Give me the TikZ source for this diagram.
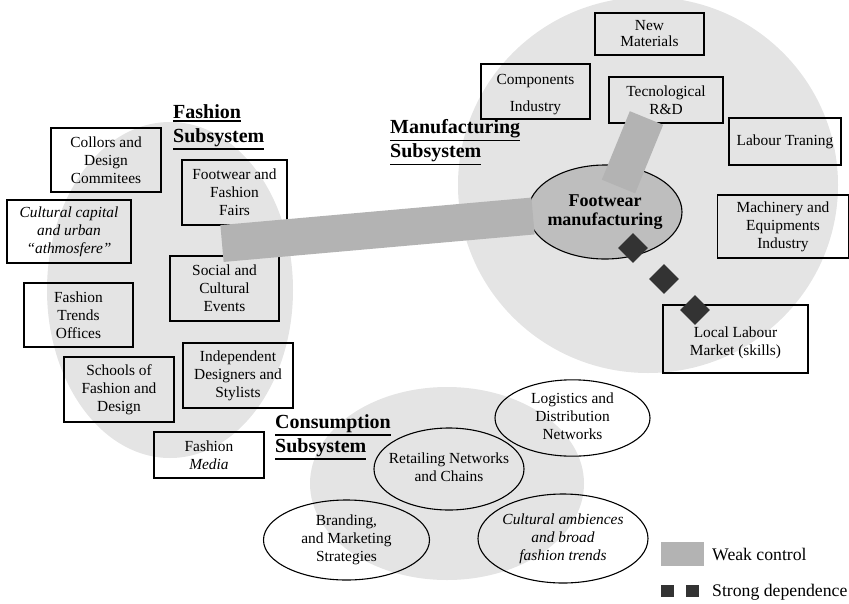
\documentclass[tikz,border=0pt]{standalone}
\usepackage{fontspec}
\setmainfont{Liberation Serif}
\usetikzlibrary{shapes.geometric}

\definecolor{zonegray}{HTML}{E4E4E4}
\definecolor{weakgray}{HTML}{B3B3B3}
\definecolor{coregray}{HTML}{BEBEBE}
\definecolor{strongdark}{HTML}{333333}

% centred multi-line text that takes no width of its own (for ovals)
\newcommand{\ctext}[1]{\makebox[0pt][c]{\begin{tabular}{@{}c@{}}#1\end{tabular}}}
% the same, lowered by #1 below the centre of its box
\newcommand{\lowtext}[2]{\raisebox{\dimexpr -3.9pt-#1\relax}[0pt][0pt]{\ctext{#2}}}
% thick underline for the subsystem titles
\newcommand{\ulined}[1]{\leavevmode\vtop{\hbox{#1}\kern1.6pt\hrule height 1.6pt}}

\begin{document}
\begin{tikzpicture}[x=1pt,y=-1pt,
  txt/.style={font=\fontsize{15.4}{18}\selectfont, align=center, inner sep=0pt},
  box/.style={txt, draw=black, line width=1.1pt, rectangle},
  oval/.style={txt, draw=black, line width=1.1pt, ellipse, inner sep=0pt},
  subtitle/.style={font=\bfseries\fontsize{20}{24}\selectfont, align=left, inner sep=0pt, anchor=west},
  weakbar/.style={draw=weakgray, line width=#1},
  strongmark/.style={diamond, fill=strongdark, minimum width=30pt, minimum height=30pt, inner sep=0pt},
  legendtxt/.style={font=\fontsize{17.7}{20}\selectfont, inner sep=0pt, anchor=base west},
]
\useasboundingbox (0,0) rectangle (849,603);

% subsystem zones
\fill[zonegray] (170,290) ellipse [x radius=123pt, y radius=168pt];
\fill[zonegray] (648,185) ellipse [x radius=190pt, y radius=188pt];
\fill[zonegray] (447,483.5) ellipse [x radius=137pt, y radius=96.5pt];

% fashion subsystem
\node[subtitle] (fashiontitle) at (173,127) {\ulined{Fashion}\\\ulined{Subsystem}};
\node[box, minimum width=110pt, minimum height=64pt] (collors) at (106,160) {Collors and\\Design\\Commitees};
\node[box, minimum width=124pt, minimum height=63pt, font=\itshape\fontsize{15.4}{18}\selectfont] (capital) at (69,231.5) {Cultural capital\\and urban\\“athmosfere”};
\node[box, minimum width=105pt, minimum height=65pt] (fairs) at (234.5,192.5) {Footwear and\\Fashion\\Fairs};
\node[box, minimum width=109pt, minimum height=65pt] (events) at (224.5,288.5) {Social and\\Cultural\\Events};
\node[box, minimum width=109pt, minimum height=64pt] (trends) at (78.5,315) {Fashion\\Trends\\Offices};
\node[box, minimum width=110pt, minimum height=65pt] (schools) at (119,389.5) {Schools of\\Fashion and\\Design};
\node[box, minimum width=110pt, minimum height=65pt] (designers) at (238,375.5) {Independent\\Designers and\\Stylists};
\node[box, minimum width=110pt, minimum height=46pt] (media) at (209,455) {Fashion\\\textit{Media}};

% manufacturing subsystem
\node[subtitle] (mantitle) at (390,142.5) {\ulined{Manufacturing}\\\ulined{Subsystem}};
\node[box, minimum width=109pt, minimum height=42pt, font=\fontsize{15.4}{16}\selectfont] (materials) at (649.5,34) {New\\Materials};
\node[box, minimum width=109pt, minimum height=55pt] (components) at (535.5,91.5) {\lowtext{2.5pt}{Components\\[9pt]Industry}};
\node[box, minimum width=114pt, minimum height=46pt] (rnd) at (666,100) {Tecnological\\R\&D};
\node[box, minimum width=112pt, minimum height=47pt] (training) at (785,141.5) {Labour Traning};
\node[box, minimum width=131pt, minimum height=63pt] (machinery) at (783,226.5) {Machinery and\\Equipments\\Industry};
\node[box, minimum width=145pt, minimum height=68pt] (labour) at (735.5,339) {\lowtext{4pt}{Local Labour\\Market (skills)}};
\node[oval, fill=coregray, minimum width=154pt, minimum height=94pt, font=\bfseries\fontsize{18}{19}\selectfont] (core) at (605,212) {\ctext{Footwear\\manufacturing}};

% consumption subsystem
\node[subtitle] (contitle) at (275,437) {\ulined{Consumption}\\\ulined{Subsystem}};
\node[oval, minimum width=155pt, minimum height=74pt] (logistics) at (572.5,418) {\ctext{Logistics and\\Distribution\\Networks}};
\node[oval, minimum width=150pt, minimum height=82pt] (retail) at (449,469) {\ctext{Retailing Networks\\and Chains}};
\node[oval, minimum width=166pt, minimum height=80pt] (branding) at (346.5,540) {\ctext{Branding,\\and Marketing\\Strategies}};
\node[oval, minimum width=170pt, minimum height=89pt] (ambience) at (563,538.5) {\ctext{\itshape Cultural ambiences\\\itshape and broad\\\itshape fashion trends}};

% weak control links
\coordinate (wcfashion) at (222,243.5);
\coordinate (wccore) at (533,216);
\coordinate (wcrnd) at (646.5,118);
\coordinate (wccoretop) at (618.5,186.5);
\draw[weakbar=37pt] (wcfashion) -- (wccore);
\draw[weakbar=36pt] (wcrnd) -- (wccoretop);

% strong dependence link
\node[strongmark] (sd1) at (633,248) {};
\node[strongmark] (sd2) at (664,279) {};
\node[strongmark] (sd3) at (695,310) {};

% legend
\node[fill=weakgray, minimum width=43pt, minimum height=24pt, inner sep=0pt] (keyweak) at (682.5,554) {};
\node[legendtxt] (keyweaktxt) at (712,560) {Weak control};
\node[fill=strongdark, minimum width=13pt, minimum height=12pt, inner sep=0pt] (keystrongA) at (667.5,591) {};
\node[fill=strongdark, minimum width=13pt, minimum height=12pt, inner sep=0pt] (keystrongB) at (692.5,591) {};
\node[legendtxt] (keystrongtxt) at (712,596) {Strong dependence};
\end{tikzpicture}
\end{document}
